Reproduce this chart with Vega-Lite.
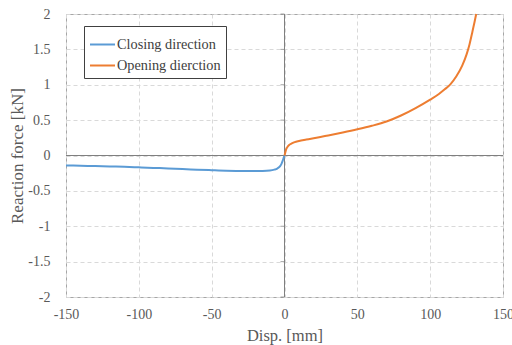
{
  "$schema": "https://vega.github.io/schema/vega-lite/v6.json",
  "width": 437,
  "height": 283,
  "autosize": {"type": "none"},
  "padding": {"left": 66, "top": 14, "right": 9, "bottom": 48},
  "background": "white",
  "config": {
    "view": {"stroke": "#a6a6a6", "strokeWidth": 1},
    "font": "Liberation Serif",
    "scale": {"continuousPadding": 0},
    "axis": {
      "labelFont": "Liberation Serif",
      "labelFontSize": 14,
      "labelColor": "#595959",
      "labelFlush": false,
      "labelOverlap": false,
      "titleFont": "Liberation Serif",
      "titleFontWeight": "normal",
      "titleColor": "#595959",
      "domain": false,
      "ticks": false,
      "gridColor": "#d9d9d9",
      "gridDash": [4, 3],
      "gridWidth": 1
    },
    "legend": {
      "orient": "none",
      "legendX": 18,
      "legendY": 12,
      "strokeColor": "#404040",
      "fillColor": "white",
      "padding": 5,
      "symbolType": "stroke",
      "symbolSize": 625,
      "symbolStrokeWidth": 2,
      "labelFont": "Liberation Serif",
      "labelFontSize": 14.3,
      "labelColor": "#404040",
      "labelOffset": 1,
      "rowPadding": -5
    }
  },
  "datasets": {
    "zero": [{"disp": 0, "force": 0}],
    "yticks": [
      {"disp": 0, "force": -2},
      {"disp": 0, "force": -1.5},
      {"disp": 0, "force": -1},
      {"disp": 0, "force": -0.5},
      {"disp": 0, "force": 0.5},
      {"disp": 0, "force": 1},
      {"disp": 0, "force": 1.5},
      {"disp": 0, "force": 2}
    ],
    "curves": [
      {"disp": -150, "force": -0.14, "series": "Closing direction"},
      {"disp": -140, "force": -0.145, "series": "Closing direction"},
      {"disp": -130, "force": -0.15, "series": "Closing direction"},
      {"disp": -120, "force": -0.155, "series": "Closing direction"},
      {"disp": -110, "force": -0.16, "series": "Closing direction"},
      {"disp": -100, "force": -0.167, "series": "Closing direction"},
      {"disp": -90, "force": -0.175, "series": "Closing direction"},
      {"disp": -80, "force": -0.183, "series": "Closing direction"},
      {"disp": -70, "force": -0.192, "series": "Closing direction"},
      {"disp": -60, "force": -0.2, "series": "Closing direction"},
      {"disp": -50, "force": -0.208, "series": "Closing direction"},
      {"disp": -40, "force": -0.215, "series": "Closing direction"},
      {"disp": -30, "force": -0.218, "series": "Closing direction"},
      {"disp": -20, "force": -0.219, "series": "Closing direction"},
      {"disp": -15, "force": -0.218, "series": "Closing direction"},
      {"disp": -10, "force": -0.212, "series": "Closing direction"},
      {"disp": -7, "force": -0.2, "series": "Closing direction"},
      {"disp": -5, "force": -0.185, "series": "Closing direction"},
      {"disp": -3, "force": -0.15, "series": "Closing direction"},
      {"disp": -2, "force": -0.115, "series": "Closing direction"},
      {"disp": -1, "force": -0.06, "series": "Closing direction"},
      {"disp": 0, "force": 0, "series": "Closing direction"},
      {"disp": 0, "force": 0, "series": "Opening dierction"},
      {"disp": 0.5, "force": 0.04, "series": "Opening dierction"},
      {"disp": 1, "force": 0.08, "series": "Opening dierction"},
      {"disp": 2, "force": 0.12, "series": "Opening dierction"},
      {"disp": 3, "force": 0.145, "series": "Opening dierction"},
      {"disp": 5, "force": 0.17, "series": "Opening dierction"},
      {"disp": 7, "force": 0.19, "series": "Opening dierction"},
      {"disp": 10, "force": 0.205, "series": "Opening dierction"},
      {"disp": 15, "force": 0.225, "series": "Opening dierction"},
      {"disp": 20, "force": 0.245, "series": "Opening dierction"},
      {"disp": 30, "force": 0.283, "series": "Opening dierction"},
      {"disp": 40, "force": 0.325, "series": "Opening dierction"},
      {"disp": 50, "force": 0.37, "series": "Opening dierction"},
      {"disp": 60, "force": 0.42, "series": "Opening dierction"},
      {"disp": 70, "force": 0.48, "series": "Opening dierction"},
      {"disp": 80, "force": 0.565, "series": "Opening dierction"},
      {"disp": 90, "force": 0.67, "series": "Opening dierction"},
      {"disp": 100, "force": 0.79, "series": "Opening dierction"},
      {"disp": 106, "force": 0.87, "series": "Opening dierction"},
      {"disp": 110, "force": 0.935, "series": "Opening dierction"},
      {"disp": 114, "force": 1.01, "series": "Opening dierction"},
      {"disp": 118, "force": 1.12, "series": "Opening dierction"},
      {"disp": 122, "force": 1.27, "series": "Opening dierction"},
      {"disp": 125, "force": 1.43, "series": "Opening dierction"},
      {"disp": 127, "force": 1.57, "series": "Opening dierction"},
      {"disp": 129, "force": 1.75, "series": "Opening dierction"},
      {"disp": 130.5, "force": 1.89, "series": "Opening dierction"},
      {"disp": 131.6, "force": 2.0, "series": "Opening dierction"}
    ]
  },
  "layer": [
    {
      "data": {"name": "zero"},
      "mark": {"type": "rule", "color": "#7f7f7f", "strokeWidth": 1},
      "encoding": {
        "x": {
          "field": "disp",
          "type": "quantitative",
          "scale": {"domain": [-150, 150], "nice": false, "padding": 0},
          "axis": {
            "title": "Disp. [mm]",
            "titleFontSize": 16.5,
            "titlePadding": 6,
            "values": [-150, -100, -50, 0, 50, 100, 150],
            "labelExpr": "toString(datum.value)",
            "labelFont": "Liberation Serif",
            "labelPadding": 10
          }
        }
      }
    },
    {
      "data": {"name": "zero"},
      "mark": {"type": "rule", "color": "#7f7f7f", "strokeWidth": 1},
      "encoding": {
        "y": {
          "field": "force",
          "type": "quantitative",
          "scale": {"domain": [-2, 2], "nice": false, "padding": 0},
          "axis": {
            "title": "Reaction force [kN]",
            "titleFontSize": 17,
            "titlePadding": 1,
            "values": [-2, -1.5, -1, -0.5, 0, 0.5, 1, 1.5, 2],
            "labelExpr": "toString(datum.value)",
            "labelFont": "Liberation Serif",
            "labelPadding": 16
          }
        }
      }
    },
    {
      "data": {"name": "yticks"},
      "mark": {"type": "tick", "orient": "horizontal", "color": "#7f7f7f", "size": 4, "thickness": 1, "xOffset": -2},
      "encoding": {
        "x": {
          "field": "disp",
          "type": "quantitative",
          "scale": {"domain": [-150, 150], "nice": false, "padding": 0},
          "axis": {
            "title": "Disp. [mm]",
            "titleFontSize": 16.5,
            "titlePadding": 6,
            "values": [-150, -100, -50, 0, 50, 100, 150],
            "labelExpr": "toString(datum.value)",
            "labelFont": "Liberation Serif",
            "labelPadding": 10
          }
        },
        "y": {
          "field": "force",
          "type": "quantitative",
          "scale": {"domain": [-2, 2], "nice": false, "padding": 0},
          "axis": {
            "title": "Reaction force [kN]",
            "titleFontSize": 17,
            "titlePadding": 1,
            "values": [-2, -1.5, -1, -0.5, 0, 0.5, 1, 1.5, 2],
            "labelExpr": "toString(datum.value)",
            "labelFont": "Liberation Serif",
            "labelPadding": 16
          }
        }
      }
    },
    {
      "data": {"name": "curves"},
      "mark": {"type": "line", "strokeWidth": 2, "interpolate": "monotone"},
      "encoding": {
        "x": {
          "field": "disp",
          "type": "quantitative",
          "scale": {"domain": [-150, 150], "nice": false, "padding": 0},
          "axis": {
            "title": "Disp. [mm]",
            "titleFontSize": 16.5,
            "titlePadding": 6,
            "values": [-150, -100, -50, 0, 50, 100, 150],
            "labelExpr": "toString(datum.value)",
            "labelFont": "Liberation Serif",
            "labelPadding": 10
          }
        },
        "y": {
          "field": "force",
          "type": "quantitative",
          "scale": {"domain": [-2, 2], "nice": false, "padding": 0},
          "axis": {
            "title": "Reaction force [kN]",
            "titleFontSize": 17,
            "titlePadding": 1,
            "values": [-2, -1.5, -1, -0.5, 0, 0.5, 1, 1.5, 2],
            "labelExpr": "toString(datum.value)",
            "labelFont": "Liberation Serif",
            "labelPadding": 16
          }
        },
        "color": {
          "field": "series",
          "type": "nominal",
          "title": null,
          "scale": {"domain": ["Closing direction", "Opening dierction"], "range": ["#5B9BD5", "#ED7D31"]}
        },
        "detail": {"field": "series"}
      }
    }
  ]
}
